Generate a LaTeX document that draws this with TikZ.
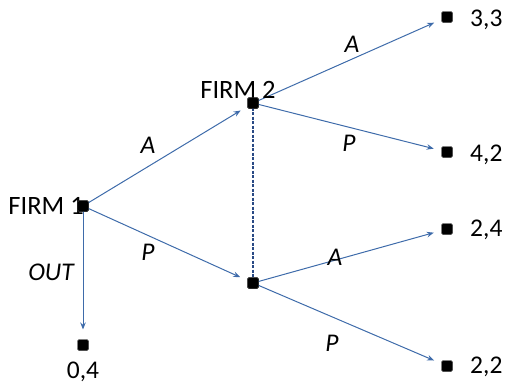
\documentclass[tikz,border=0pt]{standalone}
\usepackage{fontspec}
\setmainfont{Carlito}
\usetikzlibrary{arrows.meta}
\definecolor{lineblue}{HTML}{3E6BAA}
\definecolor{navy}{HTML}{2A4A85}
\begin{document}
\begin{tikzpicture}[x=1pt,y=-1pt,
  sq/.style={fill=black,draw=black!75,rounded corners=1.5pt,minimum size=11pt,inner sep=0pt,outer sep=0pt},
  lab/.style={font=\fontsize{25.5}{28}\selectfont,inner sep=0pt},
  flab/.style={font=\fontsize{26.5}{29}\selectfont,inner sep=0pt},
  ilab/.style={font=\fontsize{25.5}{28}\selectfont\itshape,inner sep=0pt},
  arr/.style={draw=lineblue,line width=1pt,-{Stealth[length=7pt,width=5.5pt]},shorten >=8pt},
  dashline/.style={draw=navy,line width=1.4pt,dash pattern=on 3pt off 1.5pt}]
\useasboundingbox (0,0) rectangle (505,384);
% nodes
\node[sq] (f1) at (83,206) {};
\node[sq] (f2) at (253,103) {};
\node[sq] (f2b) at (253,283) {};
\node[sq] (t1) at (447,17) {};
\node[sq] (t2) at (447,152) {};
\node[sq] (t3) at (447,229) {};
\node[sq] (t4) at (447,366) {};
\node[sq] (t0) at (83,345) {};
% connectors
\draw[dashline] (f2.center) -- (f2b.center);
\draw[arr] (f1.center) -- (f2);
\draw[arr] (f1.center) -- (f2b);
\draw[arr,shorten >=10pt] (f1.center) -- (t0);
\draw[arr] (f2.center) -- (t1);
\draw[arr] (f2.center) -- (t2);
\draw[arr] (f2b.center) -- (t3);
\draw[arr] (f2b.center) -- (t4);
% labels
\node[flab,anchor=east] (l1) at (84,206) {FIRM 1};
\node[flab] (l2) at (238,90) {FIRM 2};
\node[sq] at (f1) {};
\node[sq] at (f2) {};
\node[sq] at (f2b) {};
\node[lab,anchor=west] (p1) at (470,20) {3,3};
\node[lab,anchor=west] (p2) at (470,155) {4,2};
\node[lab,anchor=west] (p3) at (470,230) {2,4};
\node[lab,anchor=west] (p4) at (470,367) {2,2};
\node[lab] (p0) at (83,372) {0,4};
\node[ilab] (a1) at (148,145) {A};
\node[ilab] (b1) at (148,252) {P};
\node[ilab] (o1) at (51,272) {OUT};
\node[ilab] (a2) at (352,44) {A};
\node[ilab] (b2) at (349,143) {P};
\node[ilab] (a3) at (335,257) {A};
\node[ilab] (b3) at (332,343) {P};
\end{tikzpicture}
\end{document}
